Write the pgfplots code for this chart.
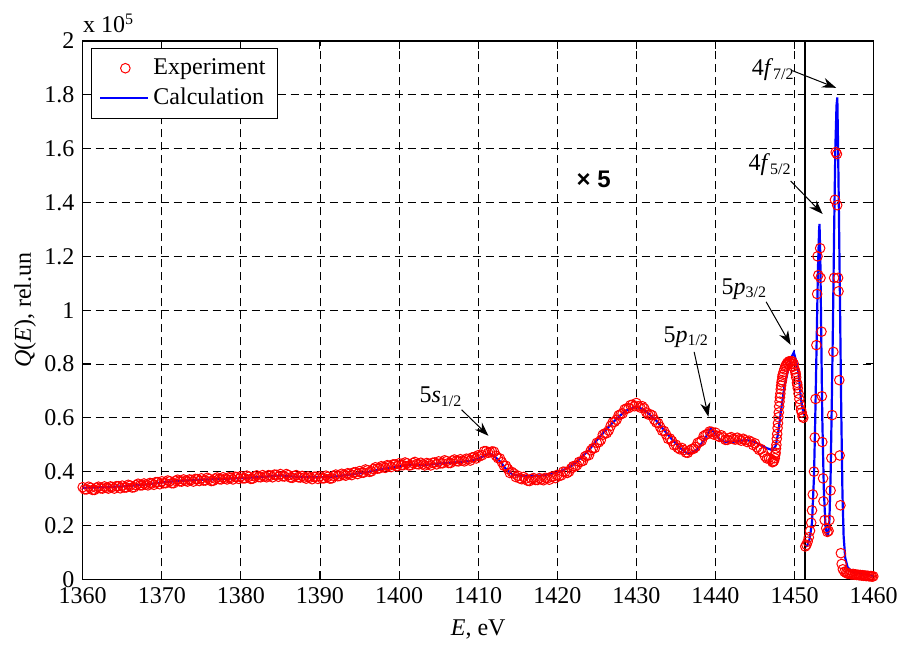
\documentclass[12pt,border=0pt]{standalone}
\usepackage{fontspec}
\setmainfont{Liberation Serif}
\newfontfamily\arialfont{Liberation Sans}
\usepackage{pgfplots}
\pgfplotsset{compat=1.18}
\usetikzlibrary{arrows.meta}
\pgfplotsset{
  explegend/.style={legend image code/.code={\draw[##1] plot coordinates {(12.5pt,0pt)};}},
  calclegend/.style={legend image code/.code={\draw[##1] (0pt,0pt) -- (24pt,0pt);}},
}

\begin{document}
\begin{tikzpicture}
\useasboundingbox (-41.35pt,-33.35pt) rectangle (409.65pt,289.65pt);
\begin{axis}[
    scale only axis,
    width=395.5pt, height=269.15pt,
    xmin=1360, xmax=1460, ymin=0, ymax=2,
    xtick={1360,1370,1380,1390,1400,1410,1420,1430,1440,1450,1460},
    ytick={0,0.2,0.4,0.6,0.8,1,1.2,1.4,1.6,1.8,2},
    scaled ticks=false,
    /pgf/number format/1000 sep={},
    /pgf/number format/assume math mode=true,
    tick align=inside,
    major tick length=4pt,
    tick style={black, line width=0.5pt},
    axis line style={line width=0.6pt},
    grid=major,
    major grid style={black, line width=0.4pt, dash pattern=on 4pt off 2.5pt},
    xlabel={\textit{E}, eV},
    ylabel={\textit{Q}(\textit{E}), rel.un},
    ylabel shift=-4pt,
    clip=false,
    legend cell align=left,
    legend style={at={(0.0102,0.987)}, anchor=north west, draw=black,
        line width=0.5pt, row sep=1pt, inner xsep=4pt, inner ysep=3pt},
]
% experiment
\addplot[only marks, mark=o, mark size=2.4pt, color=red, mark options={line width=0.5pt},
    explegend] coordinates {
(1360.0,0.342) (1360.5,0.334) (1361.0,0.340) (1361.5,0.332) (1362.0,0.344) (1362.5,0.337)
(1363.0,0.340) (1363.5,0.345) (1364.0,0.337) (1364.5,0.346) (1365.0,0.348) (1365.5,0.341)
(1366.0,0.348) (1366.5,0.342) (1367.0,0.355) (1367.5,0.349) (1368.0,0.352) (1368.5,0.358)
(1369.0,0.351) (1369.5,0.361) (1370.0,0.364) (1370.5,0.357) (1371.0,0.364) (1371.5,0.357)
(1372.0,0.370) (1372.5,0.363) (1373.0,0.366) (1373.5,0.371) (1374.0,0.363) (1374.5,0.372)
(1375.0,0.375) (1375.5,0.367) (1376.0,0.373) (1376.5,0.366) (1377.0,0.378) (1377.5,0.371)
(1378.0,0.374) (1378.5,0.379) (1379.0,0.371) (1379.5,0.380) (1380.0,0.383) (1380.5,0.375)
(1381.0,0.381) (1381.5,0.374) (1382.0,0.386) (1382.5,0.379) (1383.0,0.382) (1383.5,0.387)
(1384.0,0.379) (1384.5,0.388) (1385.0,0.391) (1385.5,0.382) (1386.0,0.387) (1386.5,0.377)
(1387.0,0.387) (1387.5,0.378) (1388.0,0.378) (1388.5,0.382) (1389.0,0.372) (1389.5,0.381)
(1390.0,0.383) (1390.5,0.375) (1391.0,0.381) (1391.5,0.375) (1392.0,0.389) (1392.5,0.384)
(1393.0,0.388) (1393.5,0.394) (1394.0,0.387) (1394.5,0.398) (1395.0,0.402) (1395.5,0.396)
(1396.0,0.405) (1396.5,0.401) (1397.0,0.416) (1397.5,0.412) (1398.0,0.417) (1398.5,0.424)
(1399.0,0.417) (1399.5,0.427) (1400.0,0.431) (1400.5,0.424) (1401.0,0.431) (1401.5,0.424)
(1402.0,0.436) (1402.5,0.427) (1403.0,0.427) (1403.5,0.432) (1404.0,0.423) (1404.5,0.434)
(1405.0,0.438) (1405.5,0.431) (1406.0,0.439) (1406.5,0.432) (1407.0,0.445) (1407.5,0.438)
(1408.0,0.441) (1408.5,0.448) (1409.0,0.441) (1409.5,0.454) (1410.0,0.461) (1410.5,0.461)
(1411.0,0.476) (1411.5,0.472) (1412.0,0.474) (1412.5,0.450) (1413.0,0.435) (1413.5,0.422)
(1414.0,0.395) (1414.5,0.393) (1415.0,0.385) (1415.5,0.372) (1416.0,0.374) (1416.5,0.365)
(1417.0,0.376) (1417.5,0.369) (1418.0,0.371) (1418.5,0.377) (1419.0,0.370) (1419.5,0.382)
(1420.0,0.388) (1420.5,0.386) (1421.0,0.399) (1421.5,0.400) (1422.0,0.420) (1422.5,0.424)
(1423.0,0.437) (1423.5,0.456) (1424.0,0.461) (1424.5,0.487) (1425.0,0.507) (1425.5,0.517)
(1426.0,0.542) (1426.5,0.553) (1427.0,0.583) (1427.5,0.593) (1428.0,0.613) (1428.5,0.631)
(1429.0,0.636) (1429.5,0.649) (1430.0,0.655) (1430.5,0.638) (1431.0,0.635) (1431.5,0.612)
(1432.0,0.609) (1432.5,0.583) (1433.0,0.566) (1433.5,0.551) (1434.0,0.522) (1434.5,0.514)
(1435.0,0.500) (1435.5,0.483) (1436.0,0.480) (1436.5,0.470) (1437.0,0.484) (1437.5,0.492)
(1438.0,0.510) (1438.5,0.532) (1439.0,0.540) (1439.5,0.548) (1440.0,0.545) (1440.5,0.529)
(1441.0,0.527) (1441.5,0.518) (1442.0,0.528) (1442.5,0.519) (1443.0,0.520) (1443.5,0.522)
(1444.0,0.510) (1444.5,0.511) (1445.0,0.505) (1445.5,0.481) (1446.0,0.472) (1446.5,0.449)
(1447.0,0.446)
(1360.25,0.334) (1360.75,0.344) (1361.25,0.332) (1361.75,0.340) (1362.25,0.338) (1362.75,0.345)
(1363.25,0.337) (1363.75,0.343) (1364.25,0.346) (1364.75,0.338) (1365.25,0.341) (1365.75,0.351)
(1366.25,0.341) (1366.75,0.350) (1367.25,0.349) (1367.75,0.356) (1368.25,0.349) (1368.75,0.356)
(1369.25,0.361) (1369.75,0.353) (1370.25,0.357) (1370.75,0.367) (1371.25,0.357) (1371.75,0.366)
(1372.25,0.364) (1372.75,0.371) (1373.25,0.363) (1373.75,0.369) (1374.25,0.373) (1374.75,0.365)
(1375.25,0.367) (1375.75,0.377) (1376.25,0.365) (1376.75,0.374) (1377.25,0.372) (1377.75,0.379)
(1378.25,0.371) (1378.75,0.377) (1379.25,0.381) (1379.75,0.373) (1380.25,0.375) (1380.75,0.385)
(1381.25,0.373) (1381.75,0.382) (1382.25,0.380) (1382.75,0.387) (1383.25,0.379) (1383.75,0.385)
(1384.25,0.389) (1384.75,0.381) (1385.25,0.383) (1385.75,0.391) (1386.25,0.378) (1386.75,0.384)
(1387.25,0.379) (1387.75,0.384) (1388.25,0.374) (1388.75,0.378) (1389.25,0.381) (1389.75,0.373)
(1390.25,0.375) (1390.75,0.385) (1391.25,0.374) (1391.75,0.384) (1392.25,0.383) (1392.75,0.392)
(1393.25,0.385) (1393.75,0.392) (1394.25,0.397) (1394.75,0.391) (1395.25,0.396) (1395.75,0.408)
(1396.25,0.399) (1396.75,0.410) (1397.25,0.411) (1397.75,0.420) (1398.25,0.414) (1398.75,0.422)
(1399.25,0.427) (1399.75,0.420) (1400.25,0.424) (1400.75,0.434) (1401.25,0.423) (1401.75,0.432)
(1402.25,0.428) (1402.75,0.433) (1403.25,0.423) (1403.75,0.429) (1404.25,0.433) (1404.75,0.427)
(1405.25,0.431) (1405.75,0.442) (1406.25,0.432) (1406.75,0.441) (1407.25,0.439) (1407.75,0.446)
(1408.25,0.438) (1408.75,0.446) (1409.25,0.453) (1409.75,0.449) (1410.25,0.458) (1410.75,0.476)
(1411.25,0.470) (1411.75,0.475) (1412.25,0.459) (1412.75,0.449) (1413.25,0.422) (1413.75,0.410)
(1414.25,0.399) (1414.75,0.380) (1415.25,0.375) (1415.75,0.380) (1416.25,0.366) (1416.75,0.373)
(1417.25,0.369) (1417.75,0.376) (1418.25,0.368) (1418.75,0.375) (1419.25,0.381) (1419.75,0.376)
(1420.25,0.384) (1420.75,0.400) (1421.25,0.395) (1421.75,0.412) (1422.25,0.419) (1422.75,0.436)
(1423.25,0.440) (1423.75,0.460) (1424.25,0.479) (1424.75,0.488) (1425.25,0.509) (1425.75,0.537)
(1426.25,0.543) (1426.75,0.570) (1427.25,0.585) (1427.75,0.609) (1428.25,0.616) (1428.75,0.635)
(1429.25,0.647) (1429.75,0.643) (1430.25,0.643) (1430.75,0.643) (1431.25,0.620) (1431.75,0.613)
(1432.25,0.593) (1432.75,0.580) (1433.25,0.552) (1433.75,0.538) (1434.25,0.523) (1434.75,0.498)
(1435.25,0.488) (1435.75,0.488) (1436.25,0.471) (1436.75,0.479) (1437.25,0.485) (1437.75,0.507)
(1438.25,0.515) (1438.75,0.537) (1439.25,0.549) (1439.75,0.538) (1440.25,0.533) (1440.75,0.535)
(1441.25,0.518) (1441.75,0.525) (1442.25,0.521) (1442.75,0.526) (1443.25,0.515) (1443.75,0.517)
(1444.25,0.515) (1444.75,0.499) (1445.25,0.490) (1445.75,0.484) (1446.25,0.457) (1446.75,0.450)
(1447.2,0.435) (1447.3,0.437) (1447.4,0.440) (1447.5,0.450) (1447.6,0.470)
(1447.7,0.500) (1447.8,0.540) (1447.9,0.580) (1448.0,0.620) (1448.1,0.660) (1448.2,0.690)
(1448.3,0.720) (1448.4,0.740) (1448.5,0.760) (1448.6,0.770) (1448.7,0.780) (1448.8,0.790)
(1448.9,0.795) (1449.0,0.800) (1449.1,0.805) (1449.2,0.800) (1449.3,0.810) (1449.4,0.805)
(1449.5,0.810) (1449.6,0.800) (1449.7,0.810) (1449.8,0.790) (1449.9,0.800) (1450.0,0.780)
(1450.1,0.770) (1450.2,0.750) (1450.3,0.730) (1450.4,0.710) (1450.5,0.690) (1450.6,0.670)
(1450.7,0.650) (1450.8,0.630) (1450.9,0.620) (1451.0,0.605) (1451.1,0.600)
(1447.55,0.462) (1447.65,0.486) (1447.75,0.522) (1447.85,0.562) (1447.95,0.602) (1448.05,0.642)
(1448.15,0.676) (1448.25,0.706) (1448.35,0.732) (1448.45,0.752) (1450.15,0.762) (1450.35,0.722)
(1451.35,0.122) (1451.5,0.128) (1451.65,0.140) (1451.8,0.156) (1451.95,0.180) (1452.1,0.210)
(1452.2,0.256) (1452.3,0.315) (1452.45,0.400) (1452.55,0.527) (1452.65,0.670) (1452.75,0.870)
(1452.85,1.060) (1452.9,1.200) (1453.0,1.130) (1453.23,1.230) (1453.28,1.120) (1453.4,0.920)
(1453.45,0.680) (1453.5,0.510) (1453.6,0.375) (1453.65,0.290) (1453.8,0.220) (1454.0,0.190)
(1454.15,0.176) (1454.3,0.180) (1454.4,0.220) (1454.55,0.330) (1454.65,0.450) (1454.75,0.610)
(1454.9,0.845) (1455.0,1.120) (1455.1,1.410) (1455.2,1.587) (1455.35,1.580) (1455.38,1.390)
(1455.5,1.120) (1455.55,1.070) (1455.65,0.740) (1455.7,0.460) (1455.8,0.275) (1455.85,0.097)
(1455.95,0.057) (1456.1,0.037) (1456.3,0.028) (1456.5,0.024) (1456.65,0.022) (1456.8,0.020)
(1456.95,0.021) (1457.1,0.019) (1457.25,0.018) (1457.4,0.020) (1457.55,0.017) (1457.7,0.018)
(1457.85,0.016) (1458.0,0.017) (1458.15,0.015) (1458.3,0.016) (1458.45,0.014) (1458.6,0.015)
(1458.75,0.013) (1458.9,0.014) (1459.05,0.012) (1459.2,0.013) (1459.35,0.012) (1459.5,0.011)
(1459.65,0.012) (1459.8,0.010) (1459.95,0.011)
};
\addlegendentry{Experiment}
% calculation, part below the x5 boundary
\addplot[color=blue, line width=1.1pt, no marks, calclegend] coordinates {
(1360,0.340) (1362,0.342) (1365,0.345) (1368,0.352) (1370,0.360) (1372,0.365) (1374,0.369)
(1377,0.372) (1380,0.376) (1383,0.381) (1385,0.386) (1387,0.381) (1389,0.379) (1391,0.380)
(1392,0.382) (1394,0.390) (1396,0.398) (1398,0.411) (1400,0.420) (1402,0.426) (1403,0.424)
(1405,0.430) (1407,0.434) (1409,0.440) (1410,0.448) (1411,0.462) (1411.5,0.466) (1412,0.458)
(1412.8,0.437) (1413.5,0.410) (1414.4,0.388) (1415.5,0.384) (1416.6,0.384) (1418,0.386)
(1419,0.391) (1420,0.397) (1420.8,0.406) (1422,0.426) (1422.9,0.449) (1424,0.480) (1425,0.517)
(1426,0.550) (1427.1,0.585) (1428,0.610) (1428.8,0.628) (1429.9,0.640) (1430.5,0.636)
(1431.3,0.622) (1432.5,0.590) (1433.5,0.554) (1434.5,0.520) (1435.6,0.486) (1436.3,0.470)
(1436.8,0.468) (1437.4,0.475) (1438.1,0.498) (1438.8,0.530) (1439.4,0.560) (1440,0.540)
(1440.6,0.517) (1441.3,0.510) (1442.3,0.511) (1443,0.515) (1444,0.517) (1445,0.510)
(1445.7,0.498) (1446.5,0.487) (1447.2,0.480) (1447.6,0.495) (1447.9,0.540) (1448.3,0.630)
(1448.7,0.714) (1449.2,0.780) (1449.6,0.825) (1449.9,0.843) (1450.2,0.810) (1450.5,0.766)
(1450.8,0.670) (1451.1,0.620) (1451.3,0.607)
};
\addlegendentry{Calculation}
% calculation, 4f region
\addplot[color=blue, line width=1.1pt, no marks, forget plot] coordinates {
(1451.3,0.120) (1451.6,0.125) (1451.9,0.150) (1452.2,0.210) (1452.45,0.380) (1452.6,0.580)
(1452.8,0.900) (1452.95,1.150) (1453.1,1.300) (1453.15,1.320) (1453.25,1.200) (1453.35,0.950)
(1453.5,0.600) (1453.7,0.330) (1453.9,0.200) (1454.1,0.165) (1454.25,0.165) (1454.4,0.220)
(1454.55,0.380) (1454.7,0.650) (1454.85,0.950) (1455.0,1.300) (1455.15,1.600) (1455.3,1.760)
(1455.4,1.790) (1455.5,1.600) (1455.6,1.370) (1455.75,1.000) (1455.9,0.620) (1456.05,0.320)
(1456.2,0.160) (1456.4,0.080) (1456.7,0.045) (1457.2,0.030) (1458,0.024) (1459,0.018)
(1459.9,0.013)
};
% boundary of the x5 region
\addplot[black, line width=0.8pt, no marks, forget plot] coordinates {(1451.3,0) (1451.3,2)};

\node[anchor=base west, inner sep=0pt, yshift=4pt] at (rel axis cs:0,1) {x 10\textsuperscript{5}};
\node[font=\arialfont\bfseries] at (axis cs:1424.6,1.485) {× 5};

\node[inner sep=0pt] at (axis cs:1447.3,1.893) {4\textit{f}\textsubscript{7/2}};
\draw[-{Stealth[length=7pt,width=5pt]}, line width=0.5pt] (axis cs:1449.7,1.89) -- (axis cs:1455.25,1.826);
\node[inner sep=0pt] at (axis cs:1446.9,1.54) {4\textit{f}\textsubscript{5/2}};
\draw[-{Stealth[length=7pt,width=5pt]}, line width=0.5pt] (axis cs:1449.5,1.48) -- (axis cs:1453.55,1.357);
\node[inner sep=0pt] at (axis cs:1443.65,1.079) {5\textit{p}\textsubscript{3/2}};
\draw[-{Stealth[length=7pt,width=5pt]}, line width=0.5pt] (axis cs:1446.4,1.031) -- (axis cs:1449.5,0.871);
\node[inner sep=0pt] at (axis cs:1436.3,0.90) {5\textit{p}\textsubscript{1/2}};
\draw[-{Stealth[length=7pt,width=5pt]}, line width=0.5pt] (axis cs:1437.3,0.845) -- (axis cs:1439.1,0.604);
\node[inner sep=0pt] at (axis cs:1405.3,0.678) {5\textit{s}\textsubscript{1/2}};
\draw[-{Stealth[length=7pt,width=5pt]}, line width=0.5pt] (axis cs:1407.9,0.63) -- (axis cs:1411.3,0.533);
\end{axis}
\end{tikzpicture}
\end{document}
